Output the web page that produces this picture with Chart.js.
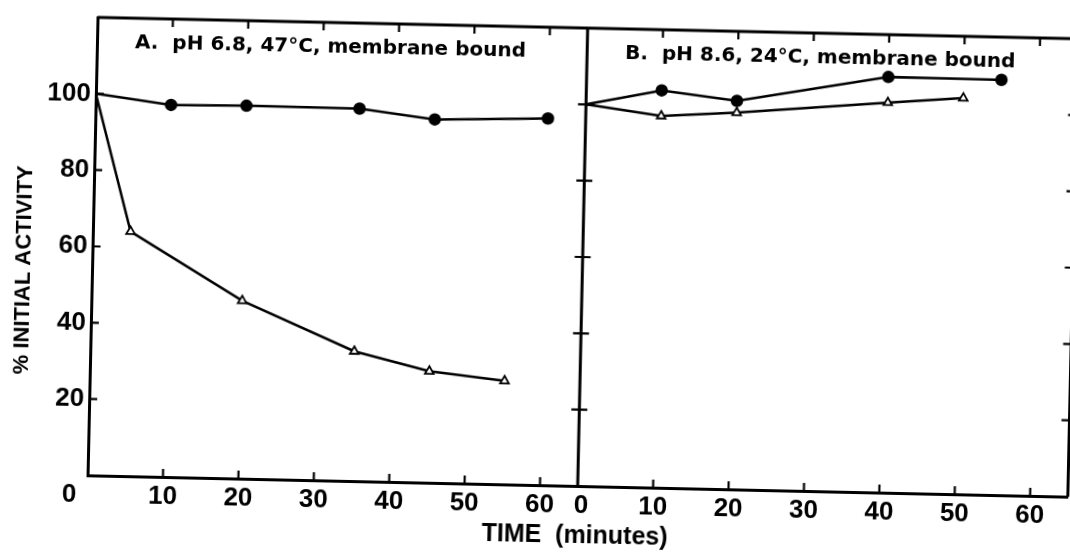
<!DOCTYPE html>
<html>
<head>
<meta charset="utf-8">
<script src="https://cdn.jsdelivr.net/npm/chart.js@4"></script>
<style>
  html, body { margin: 0; padding: 0; background: #fff; overflow: hidden; }
  /* the scanned figure sits slightly tilted */
  #wrap { width: 1070px; height: 552px; transform: rotate(1.25deg); }
</style>
</head>
<body>
<div id="wrap"><canvas id="chart" width="1080" height="552"></canvas></div>
<script>
// Panel A: pH 6.8, 47 °C
const timeA_filled = [0, 10, 20, 35, 45, 60];
const actA_filled  = [100, 97.5, 97.7, 97.6, 95.2, 96.1];
const timeA_open   = [0, 5, 20, 35, 45, 55];
const actA_open    = [100, 64.1, 46.6, 34.0, 29.2, 27.1];

// Panel B: pH 8.6, 24 °C
const timeB_filled = [0, 10, 20, 40, 55];
const actB_filled  = [100, 104.1, 101.8, 108.9, 108.8];
const timeB_open   = [0, 10, 20, 40, 50];
const actB_open    = [100, 97.4, 98.7, 102.2, 103.8];

const timeTicks     = [10, 20, 30, 40, 50, 60];
const activityTicks = [20, 40, 60, 80, 100];
const panelLabels   = ['A.  pH 6.8, 47°C, membrane bound', 'B.  pH 8.6, 24°C, membrane bound'];
const yTitle = '% INITIAL ACTIVITY';
const xTitle = 'TIME  (minutes)';

const toXY = (xs, ys) => xs.map((x, i) => ({ x, y: ys[i] }));

// first point of every curve sits on the axis without a marker
const filledSet = (xs, ys, axis) => ({
    data: toXY(xs, ys),
    xAxisID: axis,
    borderColor: '#000',
    borderWidth: 2.5,
    pointStyle: 'circle',
    pointRadius: xs.map((x, i) => i === 0 ? 0 : 5),
    pointBackgroundColor: '#000',
    pointBorderColor: '#000',
    tension: 0
});
const openSet = (xs, ys, axis) => ({
    data: toXY(xs, ys),
    xAxisID: axis,
    borderColor: '#000',
    borderWidth: 2.5,
    pointStyle: 'triangle',
    pointRadius: xs.map((x, i) => i === 0 ? 0 : 5),
    pointBackgroundColor: '#fff',
    pointBorderColor: '#000',
    pointBorderWidth: 1.8,
    tension: 0
});

// frame, inward tick marks, panel captions and axis titles
const framePlugin = {
    id: 'frame',
    afterDraw(chart) {
        const { ctx, chartArea: a, scales: { xA, xB, y } } = chart;
        const T = 8;
        ctx.save();
        ctx.strokeStyle = '#000';
        ctx.lineWidth = 3;
        ctx.beginPath();
        ctx.moveTo(a.left, a.top);   ctx.lineTo(a.right, a.top);
        ctx.moveTo(xB.left, a.top);  ctx.lineTo(xB.left, a.bottom);
        ctx.moveTo(a.right, a.top);  ctx.lineTo(a.right, a.bottom);
        ctx.stroke();

        ctx.lineWidth = 2.2;
        ctx.beginPath();
        for (const s of [xA, xB]) {
            for (const t of timeTicks) {
                const px = s.getPixelForValue(t);
                ctx.moveTo(px, a.bottom); ctx.lineTo(px, a.bottom - T);
                ctx.moveTo(px, a.top);    ctx.lineTo(px, a.top + T);
            }
        }
        for (const v of activityTicks) {
            const py = y.getPixelForValue(v);
            ctx.moveTo(a.left, py);       ctx.lineTo(a.left + T, py);
            ctx.moveTo(xB.left - T, py);  ctx.lineTo(xB.left + T, py);
            ctx.moveTo(a.right - T, py);  ctx.lineTo(a.right, py);
        }
        ctx.stroke();

        ctx.fillStyle = '#000';
        ctx.font = 'bold 20px "DejaVu Sans"';
        ctx.textAlign = 'left';
        ctx.textBaseline = 'middle';
        ctx.fillText(panelLabels[0], xA.left + 38, a.top + 25);
        ctx.fillText(panelLabels[1], xB.left + 38, a.top + 25);

        ctx.textAlign = 'center';
        ctx.font = 'bold 25px "Liberation Sans"';
        ctx.fillText(xTitle, xB.left - 2, a.bottom + 50);

        ctx.translate(24, 281);
        ctx.rotate(-Math.PI / 2);
        ctx.font = 'bold 22px "Liberation Sans"';
        ctx.fillText(yTitle, 0, 0);
        ctx.restore();
    }
};

const tickFont = { family: '"Liberation Sans", Arial, sans-serif', size: 26, weight: 'bold' };

const timeScale = (zeroLabel) => ({
    type: 'linear',
    position: 'bottom',
    stack: 'time',
    stackWeight: 1,
    min: 0,
    max: 65,
    grid: { display: false, drawTicks: false },
    border: { display: true, color: '#000', width: 3 },
    ticks: {
        stepSize: 10,
        includeBounds: false,
        autoSkip: false,
        maxRotation: 0,
        padding: 4,
        color: '#000',
        font: tickFont,
        callback: v => v === 0 ? zeroLabel : v
    },
    afterFit: s => { s.height = 67; }
});

new Chart(document.getElementById('chart'), {
    type: 'line',
    data: {
        datasets: [
            filledSet(timeA_filled, actA_filled, 'xA'),
            openSet(timeA_open, actA_open, 'xA'),
            filledSet(timeB_filled, actB_filled, 'xB'),
            openSet(timeB_open, actB_open, 'xB')
        ]
    },
    options: {
        responsive: false,
        animation: false,
        devicePixelRatio: 1,
        layout: { padding: { top: 27, right: 6, bottom: 0, left: 0 } },
        plugins: {
            legend: { display: false },
            tooltip: { enabled: false }
        },
        scales: {
            xA: timeScale('0     '),
            xB: timeScale(' 0'),
            y: {
                type: 'linear',
                position: 'left',
                min: 0,
                max: 120,
                grid: { display: false, drawTicks: false },
                border: { display: true, color: '#000', width: 3 },
                ticks: {
                    stepSize: 20,
                    padding: 5,
                    color: '#000',
                    font: tickFont,
                    callback: v => (v === 0 || v > 100) ? '' : v
                },
                afterFit: s => { s.width = 92; }
            }
        }
    },
    plugins: [framePlugin]
});
</script>
</body>
</html>
